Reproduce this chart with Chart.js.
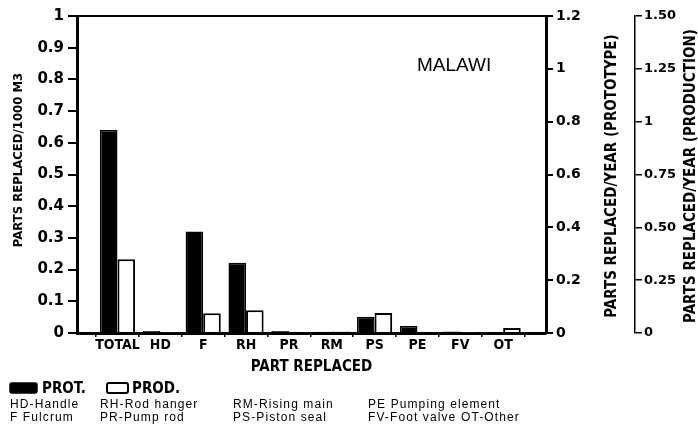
<!DOCTYPE html>
<html>
<head>
<meta charset="utf-8">
<script src="https://cdn.jsdelivr.net/npm/chart.js@4/dist/chart.umd.min.js"></script>
<style>
  html, body { margin: 0; padding: 0; background: #fff; }
  #wrap { width: 698px; height: 428px; position: relative; }
</style>
</head>
<body>
<div id="wrap"><canvas id="c" width="698" height="428"></canvas></div>
<script>
// Parts replaced, per 1000 m3 pumped, by component
const CATEGORIES = ['TOTAL', 'HD', 'F', 'RH', 'PR', 'RM', 'PS', 'PE', 'FV', 'OT'];
const PROTOTYPE  = [0.64, 0.006, 0.32, 0.222, 0.006, 0.004, 0.051, 0.022, 0.005, 0];
const PRODUCTION = [0.233, 0.002, 0.062, 0.072, 0, 0.005, 0.063, 0, 0.002, 0.016];

// Right-hand production scale labels (0 to 1.50 in quarters)
const PRODUCTION_TICK_LABELS = ['0', '0.25', '0.50', '0.75', '1', '1.25', '1.50'];

// Key to the abbreviations, one array per printed row
const KEY_ROW_1 = ['HD-Handle', 'RH-Rod hanger', 'RM-Rising main', 'PE Pumping element'];
const KEY_ROW_2 = ['F Fulcrum', 'PR-Pump rod', 'PS-Piston seal', 'FV-Foot valve', 'OT-Other'];

const NUM_FONT = { family: "'DejaVu Sans', sans-serif", weight: 'bold', size: 14 };
const LABEL_FONT = { family: "'DejaVu Sans Condensed', 'Liberation Sans Narrow', sans-serif", weight: 'bold', size: 14 };
const TITLE_CSS = "bold 15px 'DejaVu Sans Condensed', 'Liberation Sans Narrow', sans-serif";

const plainNumber = v => String(+Number(v).toFixed(2));

const tickGrid = (width, len) => ({
  drawOnChartArea: false, drawTicks: true, tickLength: len, color: '#000', lineWidth: width
});

// Frame line, axis titles, MALAWI label, legend and abbreviation key
const decorations = {
  id: 'decorations',
  afterDraw(chart) {
    const { ctx, chartArea: a } = chart;
    ctx.save();
    ctx.strokeStyle = '#000';
    ctx.lineWidth = 2;
    ctx.beginPath();
    ctx.moveTo(a.left, a.top);
    ctx.lineTo(a.right, a.top);
    ctx.stroke();

    ctx.fillStyle = '#000';
    ctx.textAlign = 'center';
    ctx.textBaseline = 'middle';
    const sideTitle = (text, x, y, font) => {
      ctx.save();
      ctx.font = font;
      ctx.translate(x, y);
      ctx.rotate(-Math.PI / 2);
      ctx.fillText(text, 0, 0);
      ctx.restore();
    };
    sideTitle('PARTS REPLACED/1000 M3', 19, 160, "bold 13px 'DejaVu Sans Condensed', sans-serif");
    sideTitle('PARTS REPLACED/YEAR (PROTOTYPE)', 612, 176, TITLE_CSS);
    sideTitle('PARTS REPLACED/YEAR (PRODUCTION)', 691, 176, TITLE_CSS);

    ctx.font = "19px 'Liberation Sans', Arial, sans-serif";
    ctx.textAlign = 'left';
    ctx.fillText('MALAWI', 417, 66);

    // legend swatches drawn from the dataset styles
    const ly = 388;
    const swatches = [{ x: 10, w: 27, tx: 42 }, { x: 107, w: 21, tx: 132 }];
    ctx.font = TITLE_CSS;
    chart.data.datasets.forEach((ds, i) => {
      const s = swatches[i];
      ctx.fillStyle = ds.backgroundColor;
      ctx.strokeStyle = ds.borderColor;
      ctx.lineWidth = ds.borderWidth;
      ctx.beginPath();
      ctx.roundRect(s.x, ly - 5, s.w, 10, 2);
      ctx.fill();
      ctx.stroke();
      ctx.fillStyle = '#000';
      ctx.fillText(ds.label, s.tx, ly + 1);
    });

    // abbreviation key
    ctx.font = "12px 'Liberation Sans', Arial, sans-serif";
    if ('letterSpacing' in ctx) ctx.letterSpacing = '1.1px';
    const cols = [10, 100, 233, 368, 461];
    KEY_ROW_1.forEach((t, i) => ctx.fillText(t, cols[i], 405));
    KEY_ROW_2.forEach((t, i) => ctx.fillText(t, cols[i], 418));
    ctx.restore();
  }
};

new Chart(document.getElementById('c'), {
  type: 'bar',
  data: {
    datasets: [
      {
        label: 'PROT.',
        data: CATEGORIES.map((c, i) => ({ x: i, y: PROTOTYPE[i] })),
        backgroundColor: '#000', borderColor: '#000', borderWidth: 1.5,
        yAxisID: 'y'
      },
      {
        label: 'PROD.',
        data: CATEGORIES.map((c, i) => ({ x: i, y: PRODUCTION[i] })),
        backgroundColor: '#fff', borderColor: '#000', borderWidth: 2,
        yAxisID: 'y'
      }
    ]
  },
  options: {
    responsive: false,
    animation: false,
    events: [],
    layout: { padding: { top: 16, bottom: 52, left: 0, right: 0 } },
    datasets: { bar: { categoryPercentage: 0.82, barPercentage: 1 } },
    plugins: { legend: { display: false }, tooltip: { enabled: false }, title: { display: false } },
    scales: {
      x: {
        type: 'linear', min: -0.945, max: 10, offset: false,
        grid: tickGrid(1.5, 4),
        border: { display: true, color: '#000', width: 3 },
        ticks: {
          autoSkip: false, maxRotation: 0, padding: 0, color: '#000', font: LABEL_FONT,
          callback: v => CATEGORIES[v] ?? ''
        },
        afterBuildTicks: s => { s.ticks = CATEGORIES.map((c, i) => ({ value: i })); },
        title: { display: true, text: 'PART REPLACED', color: '#000',
                 font: { family: LABEL_FONT.family, weight: 'bold', size: 15 }, padding: { top: 0, bottom: 0 } },
        afterFit: s => { s.height = 43; }
      },
      y: {
        position: 'left', min: 0, max: 1,
        ticks: { stepSize: 0.1, padding: 4, color: '#000', font: { ...NUM_FONT, size: 15 }, callback: plainNumber },
        grid: tickGrid(2, 9),
        border: { display: true, color: '#000', width: 3 },
        afterFit: s => { s.width = 77; }
      },
      y1: {
        position: 'right', display: true, min: 0, max: 1.2,
        ticks: { stepSize: 0.2, padding: 3, color: '#000', font: NUM_FONT, callback: plainNumber },
        grid: tickGrid(2, 7),
        border: { display: true, color: '#000', width: 3 },
        afterFit: s => { s.width = 89; }
      },
      y2: {
        position: 'right', display: true, min: 0, max: 1.5,
        ticks: { stepSize: 0.25, padding: 2, color: '#000', font: { ...NUM_FONT, size: 13 },
                 callback: v => PRODUCTION_TICK_LABELS[Math.round(v / 0.25)] },
        grid: tickGrid(1.5, 7),
        border: { display: true, color: '#000', width: 1.5 },
        afterFit: s => { s.width = 63; }
      }
    }
  },
  plugins: [decorations]
});
</script>
</body>
</html>
